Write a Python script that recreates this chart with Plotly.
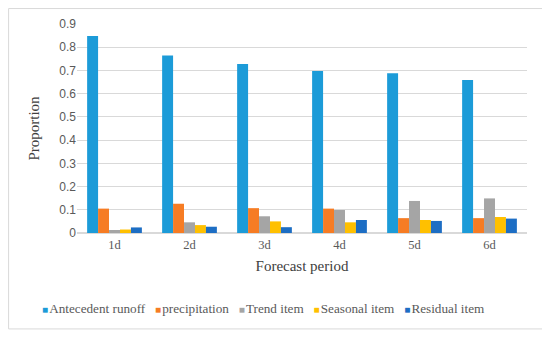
import plotly.graph_objects as go

periods = ["1d", "2d", "3d", "4d", "5d", "6d"]
antecedent = [0.848, 0.764, 0.728, 0.698, 0.688, 0.659]
precipitation = [0.105, 0.126, 0.107, 0.105, 0.064, 0.064]
trend = [0.013, 0.046, 0.072, 0.099, 0.138, 0.149]
seasonal = [0.015, 0.034, 0.050, 0.046, 0.056, 0.069]
residual = [0.024, 0.027, 0.025, 0.056, 0.052, 0.062]

series_names = ["Antecedent runoff", "precipitation", "Trend item", "Seasonal item", "Residual item"]
series_values = [antecedent, precipitation, trend, seasonal, residual]
series_colors = ["#1C9BD8", "#F67C24", "#A5A5A5", "#FFC000", "#1D6EC4"]

fig = go.Figure()
for name, vals, col in zip(series_names, series_values, series_colors):
    fig.add_trace(go.Bar(x=periods, y=vals, name=name, marker_color=col,
                         marker_line_width=0, showlegend=False))

serif = "Liberation Serif"
legend_text = "&nbsp;&nbsp;&nbsp;".join(
    f"<span style='color:{c};font-size:10px'>■</span>&#8202;{n}"
    for n, c in zip(series_names, series_colors)
)

fig.update_layout(
    width=542, height=329,
    margin=dict(l=69, r=23, t=16, b=104, autoexpand=False),
    paper_bgcolor="white", plot_bgcolor="white",
    barmode="group", bargap=0.27, bargroupgap=0,
    font=dict(family=serif, color="#404040"),
    xaxis=dict(title=dict(text="Forecast period", font=dict(family=serif, size=15, color="#404040"), standoff=9),
               tickfont=dict(family=serif, size=12.5, color="#595959"), automargin=False,
               showline=True, linecolor="#D9D9D9", ticks=""),
    yaxis=dict(title=dict(text="Proportion", font=dict(family=serif, size=15, color="#404040"), standoff=16),
               range=[0, 0.9], dtick=0.1, tickformat="~g", automargin=False,
               tickfont=dict(family="Liberation Sans", size=12, color="#595959"),
               showgrid=True, gridcolor="#D9D9D9", gridwidth=1,
               zeroline=True, zerolinecolor="#D9D9D9", showline=False, ticks=""),
    annotations=[dict(text=legend_text, xref="paper", yref="paper",
                      x=0.414, y=-0.359, xanchor="center", yanchor="middle",
                      showarrow=False, font=dict(family=serif, size=13.2, color="#595959"))],
    shapes=[dict(type="rect", xref="paper", yref="paper",
                 x0=-0.152, x1=1.036, y0=-0.459, y1=1.074,
                 line=dict(color="#D9D9D9", width=1), fillcolor="rgba(0,0,0,0)")],
)

fig.write_html("out.html")
